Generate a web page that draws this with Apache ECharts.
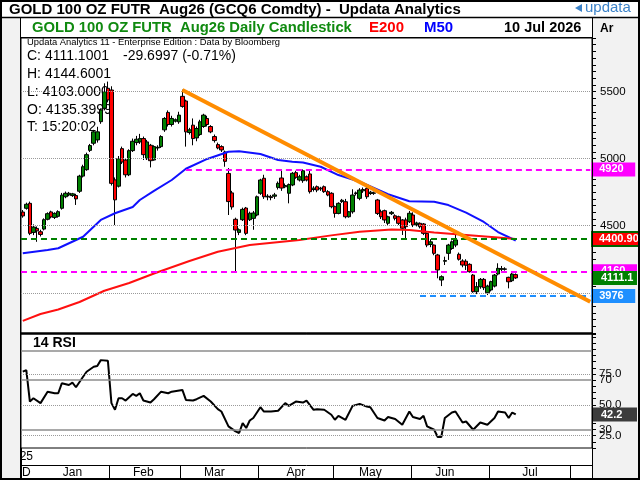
<!DOCTYPE html>
<html><head><meta charset="utf-8">
<script src="https://cdn.jsdelivr.net/npm/echarts/dist/echarts.min.js"></script>
<style>html,body{margin:0;padding:0;background:#fff}#c{width:640px;height:480px}</style>
</head><body><div id="c"></div>
<script>
const FONT = '"Liberation Sans", Arial, sans-serif';

// ---- categories (trading days) ----
const startDate = '2025-12-24';
const dayCount = 161;
const holidays = ['2025-12-25', '2026-01-01', '2026-04-03'];
function buildDates(start, count, skip) {
  const out = []; const d = new Date(start + 'T00:00:00Z');
  while (out.length < count) {
    const dow = d.getUTCDay(); const s = d.toISOString().slice(0, 10);
    if (dow !== 0 && dow !== 6 && skip.indexOf(s) < 0) out.push(s);
    d.setUTCDate(d.getUTCDate() + 1);
  }
  return out;
}
const dates = buildDates(startDate, dayCount, holidays);

// ---- axis tick labels ----
const monthTickIdx = [25, 45, 67, 88, 110, 132, 155];
const yearTickIdx = [5];
const monthLabelIdx = [1, 14, 34, 54, 77, 98, 119, 143];
const monthLabels = ['D', 'Jan', 'Feb', 'Mar', 'Apr', 'May', 'Jun', 'Jul'];
const yearLabelIdx = [1];
const yearLabels = ['25'];
const priceGrid = [4000, 4500, 5000, 5500];
const priceLabels = [4500, 5000, 5500];
const rsiLabels = {75: '75.0', 70: '70', 50: '50.0', 30: '30', 25: '25.0'};

// ---- candles: [open, close, low, high] ----
const candles = [
[4602,4573,4560,4617],[4630,4660,4620,4672],[4667,4443,4430,4680],[4450,4490,4430,4510],[4480,4462,4380,4495],
[4455,4435,4420,4470],[4475,4545,4465,4555],[4548,4590,4540,4600],[4603,4566,4555,4612],[4562,4592,4550,4600],
[4570,4605,4560,4615],[4630,4728,4620,4745],[4716,4742,4705,4755],[4730,4742,4720,4752],[4725,4738,4715,4745],
[4725,4700,4655,4738],[4757,4870,4745,4880],[4870,4940,4860,4955],[4918,5030,4910,5045],[5062,5098,5050,5110],
[5115,5200,5100,5215],[5140,5200,5120,5238],[5276,5363,5260,5375],[5376,5500,5360,5562],[5525,5438,5420,5575],
[5512,4816,4800,5540],[4842,4693,4505,4860],[4795,5000,4785,5020],[5075,4975,4960,5090],[4990,4880,4860,5000],
[4880,5060,4870,5070],[5060,5130,5050,5150],[5120,5145,5100,5170],[5125,5150,5110,5185],[5150,5030,4990,5165],
[5000,5125,4990,5140],[5100,4985,4935,5110],[4990,5090,4985,5100],[5080,5085,5060,5100],[5090,5165,5080,5175],
[5215,5300,5200,5310],[5345,5255,5240,5360],[5255,5300,5240,5320],[5280,5290,5270,5300],[5275,5325,5260,5350],
[5465,5390,5380,5515],[5430,5200,5090,5440],[5195,5215,5180,5230],[5250,5150,5100,5300],[5155,5225,5130,5240],
[5180,5275,5170,5290],[5240,5325,5230,5335],[5300,5255,5240,5320],[5240,5200,5190,5250],[5165,5135,5120,5180],
[5105,5080,5070,5120],[5090,5065,5050,5100],[5050,4980,4940,5060],[4890,4680,4580,4930],[4745,4640,4620,4760],
[4548,4468,4157,4560],[4450,4470,4430,4480],[4545,4622,4535,4635],[4632,4443,4430,4640],[4545,4593,4535,4605],
[4555,4595,4470,4610],[4580,4716,4570,4725],[4742,4841,4730,4850],[4854,4716,4700,4880],[4715,4720,4690,4735],
[4716,4710,4690,4730],[4720,4730,4700,4745],[4786,4816,4770,4830],[4856,4781,4760,4920],[4790,4800,4780,4815],
[4742,4807,4667,4815],[4804,4891,4795,4900],[4896,4861,4850,4910],[4841,4865,4830,4880],[4836,4910,4820,4920],
[4865,4841,4830,4875],[4886,4754,4740,4920],[4770,4780,4755,4795],[4791,4766,4750,4800],[4775,4780,4760,4790],
[4791,4754,4745,4800],[4754,4729,4720,4765],[4742,4642,4630,4750],[4642,4592,4560,4650],[4592,4667,4585,4675],
[4680,4690,4670,4700],[4679,4567,4555,4700],[4567,4604,4560,4610],[4604,4729,4590,4772],[4740,4745,4725,4755],
[4704,4766,4690,4780],[4760,4770,4745,4785],[4779,4716,4700,4790],[4740,4750,4730,4760],[4742,4745,4730,4755],
[4692,4592,4580,4700],[4604,4567,4550,4620],[4612,4543,4520,4620],[4518,4567,4500,4575],[4590,4600,4580,4610],
[4574,4555,4540,4585],[4567,4518,4505,4575],[4543,4481,4431,4550],[4543,4493,4399,4560],[4530,4593,4520,4610],
[4580,4505,4490,4600],[4510,4520,4495,4530],[4518,4493,4480,4525],[4513,4443,4430,4520],[4443,4356,4340,4450],
[4360,4380,4340,4400],[4356,4294,4280,4360],[4282,4170,4108,4290],[4095,4120,4050,4130],[4235,4240,4207,4269],
[4294,4356,4245,4365],[4330,4380,4320,4390],[4356,4394,4340,4431],[4287,4250,4240,4300],[4237,4207,4190,4250],
[4235,4205,4170,4250],[4212,4157,4150,4220],[4132,4008,4000,4140],[4008,4045,3990,4080],[4045,4100,4030,4110],
[4100,4038,4020,4110],[4000,4050,3983,4060],[4021,4083,4010,4090],[4050,4132,4040,4140],[4140,4182,4130,4220],
[4175,4180,4160,4200],[4178,4175,4165,4190],[4115,4082,4033,4120],[4090,4140,4080,4150],[4135.4,4111.1,4103,4144.6]
];

// ---- moving averages: [dayIndex, value] ----
const m50 = [[0,4294],[7,4319],[10,4332],[17,4418],[22,4543],[26,4593],[31,4640],[33,4692],[37,4760],[42,4841],
[46,4925],[52,4998],[58,5052],[61,5055],[67,5035],[72,4990],[76,4978],[79,4972],[84,4940],[89,4878],[95,4828],
[103,4735],[109,4682],[116,4679],[120,4654],[125,4598],[130,4528],[134,4453],[139,4390]];
const e200 = [[0,3790],[5,3842],[10,3875],[16,3931],[23,4015],[30,4073],[37,4144],[47,4237],[55,4306],[64,4356],
[78,4394],[87,4428],[95,4455],[104,4472],[109,4468],[116,4450],[125,4431],[134,4412],[139,4401]];

// ---- RSI(14): [dayIndex, value] ----
const rsi = [[0,76.9],[1,78.2],[2,52.7],[3,55.4],[5,51.4],[7,60.7],[9,59.4],[10,59.4],[11,67.5],[13,66.1],[14,68],
[15,64.3],[17,72.8],[18,76.9],[20,80.9],[21,81.5],[22,86.3],[24,85.8],[25,51.4],[26,46],[27,55.4],[28,55.4],[29,53.5],
[31,58.9],[32,57.3],[33,59.4],[34,53.5],[36,51.9],[37,54.6],[39,60.7],[41,59.4],[42,60.7],[45,62.1],[46,54],[48,53.5],
[49,54.6],[51,57.3],[53,52.7],[55,46.5],[56,44.6],[58,32.5],[60,28.5],[61,27.2],[62,35.2],[63,31.2],[64,37.3],[65,39.3],
[67,48.1],[68,44.6],[70,44.6],[72,45.2],[74,51.4],[75,49.2],[77,52.7],[79,51.9],[80,53.5],[82,46],[83,46.5],[85,46],
[87,42],[88,37.9],[89,41.1],[91,37.9],[93,49.2],[95,50.8],[97,48.6],[98,48.1],[100,39.3],[102,37.3],[103,40.1],[105,38.5],
[107,33.9],[109,44.6],[110,40.1],[112,38.5],[113,41.1],[114,32.5],[116,29.8],[117,23.9],[118,23.9],[119,39.3],[121,43.8],
[122,44.6],[124,35.7],[125,36.5],[127,29.8],[129,35.7],[131,33.9],[133,39.3],[134,44.6],[136,43.8],[137,39.3],[138,43.8],[139,42.2]];

// ---- drawn levels ----
const resistance = 4920, resistanceStart = 46;
const greenLevel = 4400.9;
const magentaLevel = 4160;
const blueLevel = 3976, blueStart = 112;
const trendline = [[45, 5512], [160, 3933]];
const lastClose = 4111.1;
const lastE200 = '4400.90';
const rsiSolid = [93.7, 70, 30];
const rsiDotted = [75, 50, 25];
const lastRsi = 42.2;

const CLEAR = 'rgba(0,0,0,0)';
function tag(text, bg, extra) {
  return Object.assign({show: true, position: 'end', distance: 1, formatter: text, color: '#fff',
    fontWeight: 'bold', fontSize: 11, fontFamily: FONT, backgroundColor: bg, padding: [2, 4, 1, 8], width: 32}, extra || {});
}
const noLabel = {show: false};

const priceMarks = [];
priceGrid.forEach(v => priceMarks.push({yAxis: v, lineStyle: {type: 'dotted', color: '#9a9a9a', width: 1}, label: noLabel}));
priceMarks.push([{coord: [resistanceStart, resistance], lineStyle: {color: '#ff00ff', type: [6, 4], width: 2}, label: tag(String(resistance), '#ff00ff')},
                 {coord: [dayCount - 1, resistance]}]);
priceMarks.push({yAxis: magentaLevel, lineStyle: {color: '#ff00ff', type: [6, 4], width: 2}, label: tag(String(magentaLevel), '#ff00ff')});
priceMarks.push({yAxis: greenLevel, lineStyle: {color: '#008000', type: [6, 4], width: 2},
  label: tag(lastE200, '#ff0000', {width: null, borderColor: '#006400', borderWidth: 2, padding: [1, 3, 0, 6]})});
priceMarks.push([{coord: [blueStart, blueLevel], lineStyle: {color: '#1e8fff', type: [6, 4], width: 2}, label: tag(String(blueLevel), '#1e8fff')},
                 {coord: [dayCount - 1, blueLevel]}]);

const overlayMarks = [
  [{coord: trendline[0], lineStyle: {color: '#ff8c00', width: 4, type: 'solid'}, label: noLabel}, {coord: trendline[1]}],
  {yAxis: lastClose, lineStyle: {color: CLEAR, width: 1, type: 'solid'}, label: tag(String(lastClose), '#008000')}
];

const rsiMarks = [];
rsiSolid.forEach(v => rsiMarks.push({yAxis: v, lineStyle: {type: 'solid', color: '#8c8c8c', width: 1.5}, label: noLabel}));
rsiDotted.forEach(v => rsiMarks.push({yAxis: v, lineStyle: {type: 'dotted', color: '#9a9a9a', width: 1}, label: noLabel}));
rsiMarks.push({yAxis: lastRsi, lineStyle: {color: CLEAR, width: 1, type: 'solid'}, label: tag(String(lastRsi), '#3c3c3c')});

const gl = (x1, y1, x2, y2, w) => ({type: 'line', silent: true, z: 50, shape: {x1, y1, x2, y2}, style: {stroke: '#000', lineWidth: w || 1}});
const txt = (x, y, text, font, color, extra) => Object.assign({type: 'text', silent: true, z: 1, x, y,
  style: {text, font, fill: color || '#000', textVerticalAlign: 'middle', textAlign: 'left'}}, extra || {});

const option = {
  animation: false,
  backgroundColor: '#fff',
  textStyle: {fontFamily: FONT},
  grid: [
    {left: 21, right: 48, top: 38, height: 295, show: true, backgroundColor: '#fff', borderColor: '#000', borderWidth: 1},
    {left: 21, right: 48, top: 334, height: 114, show: true, backgroundColor: '#fff', borderColor: '#000', borderWidth: 1}
  ],
  xAxis: [
    {type: 'category', gridIndex: 0, data: dates, boundaryGap: true, axisLine: {show: false}, axisTick: {show: false},
     axisLabel: {show: false}, splitLine: {show: false}},
    {type: 'category', gridIndex: 1, data: dates, boundaryGap: true, position: 'bottom', offset: 17,
     axisLine: {show: true, lineStyle: {color: '#000', width: 1}},
     axisTick: {show: true, interval: (i) => monthTickIdx.indexOf(i) >= 0, length: 13, lineStyle: {color: '#000'}},
     axisLabel: {interval: (i) => monthLabelIdx.indexOf(i) >= 0,
       formatter: (v, i) => monthLabels[monthLabelIdx.indexOf(i)] || '', color: '#000', fontSize: 12, fontFamily: FONT, margin: 2},
     splitLine: {show: false}},
    {type: 'category', gridIndex: 1, data: dates, boundaryGap: true, position: 'bottom', offset: 0,
     axisLine: {show: false},
     axisTick: {show: true, interval: (i) => yearTickIdx.indexOf(i) >= 0, length: 30, lineStyle: {color: '#000'}},
     axisLabel: {interval: (i) => yearLabelIdx.indexOf(i) >= 0,
       formatter: (v, i) => yearLabels[yearLabelIdx.indexOf(i)] || '', color: '#000', fontSize: 12, fontFamily: FONT, margin: 3},
     splitLine: {show: false}}
  ],
  yAxis: [
    {type: 'value', gridIndex: 0, position: 'right', min: 3700, max: 5900, interval: 50,
     axisLine: {show: true, lineStyle: {color: '#000'}}, axisTick: {show: true, length: 4, lineStyle: {color: '#000'}},
     axisLabel: {formatter: v => priceLabels.indexOf(v) >= 0 ? String(v) : '', color: '#000', fontSize: 11.5, fontFamily: FONT, margin: 8},
     splitLine: {show: false}},
    {type: 'value', gridIndex: 1, position: 'right', min: 15, max: 107.5, interval: 5,
     axisLine: {show: true, lineStyle: {color: '#000'}}, axisTick: {show: true, length: 4, lineStyle: {color: '#000'}},
     axisLabel: {formatter: v => rsiLabels[v] || '', color: '#000', fontSize: 11.5, fontFamily: FONT, margin: 7},
     splitLine: {show: false}}
  ],
  series: [
    {type: 'candlestick', name: 'GC', xAxisIndex: 0, yAxisIndex: 0, data: candles, barWidth: 4, z: 2,
     itemStyle: {color: '#008000', color0: '#ff0000', borderColor: '#000', borderColor0: '#000', borderWidth: 1},
     markLine: {silent: true, symbol: ['none', 'none'], animation: false, data: priceMarks}},
    {type: 'line', name: 'M50', xAxisIndex: 0, yAxisIndex: 0, data: m50, showSymbol: false, symbol: 'none', z: 3,
     lineStyle: {color: '#1010ff', width: 2}},
    {type: 'line', name: 'E200', xAxisIndex: 0, yAxisIndex: 0, data: e200, showSymbol: false, symbol: 'none', z: 3,
     lineStyle: {color: '#ff1010', width: 2},
     markLine: {silent: true, symbol: ['none', 'none'], animation: false, data: overlayMarks}},
    {type: 'line', name: 'RSI', xAxisIndex: 1, yAxisIndex: 1, data: rsi, showSymbol: false, symbol: 'none', z: 3,
     lineStyle: {color: '#000', width: 2},
     markLine: {silent: true, symbol: ['none', 'none'], animation: false, data: rsiMarks}}
  ],
  graphic: [
    {type: 'rect', silent: true, z: -1, shape: {x: 0, y: 17, width: 20, height: 463}, style: {fill: '#f2f2f2'}},
    {type: 'rect', silent: true, z: -1, shape: {x: 593, y: 17, width: 47, height: 463}, style: {fill: '#f2f2f2'}},
    txt(9, 10, 'GOLD 100 OZ FUTR  Aug26 (GCQ6 Comdty) -  Updata Analytics', 'bold 15px ' + FONT, '#000'),
    {type: 'polygon', silent: true, z: 1, shape: {points: [[575, 8], [582, 4], [582, 12]]}, style: {fill: '#3b82c8'}},
    txt(585, 8, 'updata', '15px ' + FONT, '#3b82c8'),
    txt(32, 28, 'GOLD 100 OZ FUTR  Aug26 Daily Candlestick', 'bold 14.8px ' + FONT, '#108a10'),
    txt(369, 28, 'E200', 'bold 15px ' + FONT, '#ff0000'),
    txt(424, 28, 'M50', 'bold 15px ' + FONT, '#0000ff'),
    txt(504, 28, '10 Jul 2026', 'bold 14.5px ' + FONT, '#000'),
    txt(600, 29, 'Ar', 'bold 12px ' + FONT, '#000'),
    txt(27, 42, 'Updata Analytics 11 - Enterprise Edition : Data by Bloomberg', '9.4px ' + FONT, '#000'),
    txt(27, 56, 'C: 4111.1001', '14px ' + FONT, '#000'),
    txt(123, 56, '-29.6997 (-0.71%)', '14px ' + FONT, '#000'),
    txt(27, 74, 'H: 4144.6001', '14px ' + FONT, '#000'),
    txt(27, 92, 'L: 4103.0000', '14px ' + FONT, '#000'),
    txt(27, 110, 'O: 4135.3999', '14px ' + FONT, '#000'),
    txt(27, 127, 'T: 15:20:02', '14px ' + FONT, '#000'),
    txt(33, 343, '14 RSI', 'bold 14px ' + FONT, '#000'),
    gl(0, 17.5, 640, 17.5, 1.5),
    gl(20.5, 17, 20.5, 480, 1),
    gl(592.5, 17, 592.5, 480, 1),
    gl(20, 37.5, 592, 37.5, 1),
    gl(20, 333.5, 592, 333.5, 2),
    {type: 'rect', silent: true, z: 50, shape: {x: 1, y: 1, width: 638, height: 478}, style: {fill: null, stroke: '#000', lineWidth: 2}}
  ]
};
const chart = echarts.init(document.getElementById('c'), null, {renderer: 'canvas'});
chart.setOption(option);
</script></body></html>
